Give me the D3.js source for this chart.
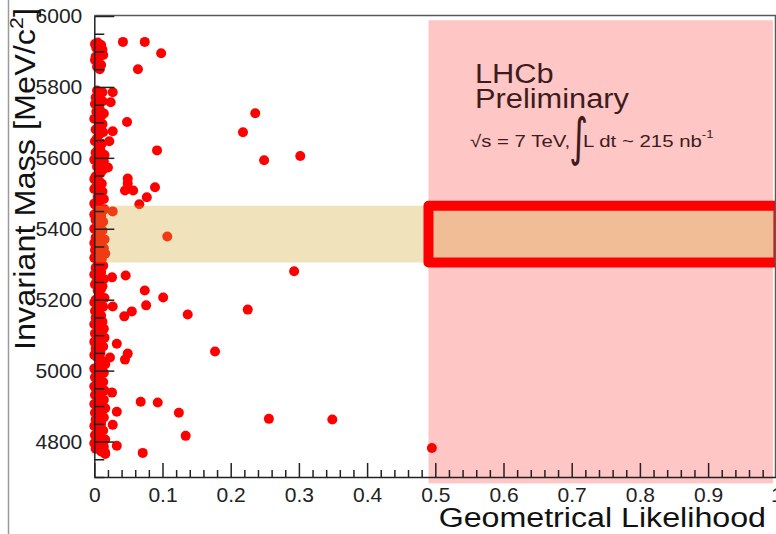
<!DOCTYPE html>
<html>
<head>
<meta charset="utf-8">
<script src="https://cdn.jsdelivr.net/npm/d3@7"></script>
<style>
  html, body { margin: 0; padding: 0; background: #fff; }
  svg text { font-family: "Liberation Sans", Arial, sans-serif; }
</style>
</head>
<body>
<div id="chart"></div>
<script>
// candidates close to zero likelihood: [likelihood, mass]
const nearZero = [
  [0.005, 5925], [0.010, 5918], [0.003, 5910], [0.012, 5905], [0.007, 5895], [0.002, 5885],
  [0.006, 5870], [0.010, 5862], [0.008, 5850], [0.004, 5790], [0.009, 5780], [0.002, 5770],
  [0.012, 5760], [0.006, 5745], [0.003, 5730], [0.010, 5718], [0.005, 5705], [0.012, 5695],
  [0.002, 5680], [0.008, 5668], [0.004, 5655], [0.011, 5640], [0.006, 5628], [0.002, 5615],
  [0.009, 5600], [0.014, 5590], [0.004, 5575], [0.010, 5560], [0.002, 5548], [0.007, 5535],
  [0.003, 5520], [0.012, 5505], [0.005, 5490], [0.008, 5478], [0.003, 5465], [0.015, 5455],
  [0.006, 5445], [0.010, 5435], [0.002, 5425], [0.008, 5415], [0.004, 5405], [0.012, 5395],
  [0.006, 5385], [0.002, 5375], [0.009, 5365], [0.004, 5355], [0.014, 5345], [0.007, 5335],
  [0.003, 5325], [0.011, 5315], [0.005, 5300], [0.002, 5290], [0.010, 5278], [0.006, 5265],
  [0.003, 5250], [0.012, 5238], [0.005, 5225], [0.008, 5212], [0.002, 5200], [0.010, 5188],
  [0.004, 5175], [0.007, 5162], [0.002, 5150], [0.012, 5138], [0.005, 5125], [0.009, 5112],
  [0.003, 5100], [0.011, 5088], [0.006, 5075], [0.002, 5062], [0.009, 5050], [0.004, 5038],
  [0.013, 5025], [0.006, 5012], [0.002, 5000], [0.010, 4988], [0.004, 4975], [0.008, 4962],
  [0.002, 4950], [0.011, 4938], [0.005, 4925], [0.009, 4912], [0.003, 4900], [0.012, 4888],
  [0.006, 4875], [0.002, 4862], [0.010, 4850], [0.004, 4838], [0.008, 4825], [0.003, 4812],
  [0.012, 4800], [0.006, 4790], [0.002, 4780], [0.010, 4772], [0.016, 4768]
];

// more of the dense column, between the ones above
const nearZeroFill = [
  [0.001, 5921], [0.008, 5913], [0.013, 5890], [0.001, 5876], [0.004, 5857], [0.012, 5785],
  [0.001, 5752], [0.008, 5737], [0.014, 5725], [0.000, 5710], [0.007, 5688], [0.013, 5672],
  [0.001, 5647], [0.009, 5621], [0.015, 5608], [0.000, 5595], [0.006, 5582], [0.013, 5567],
  [0.000, 5540], [0.011, 5527], [0.000, 5512], [0.009, 5497], [0.014, 5484], [0.000, 5471],
  [0.012, 5450], [0.000, 5440], [0.013, 5420], [0.000, 5400], [0.009, 5389], [0.015, 5370],
  [0.000, 5360], [0.010, 5350], [0.001, 5340], [0.016, 5330], [0.000, 5318], [0.013, 5296],
  [0.000, 5271], [0.014, 5258], [0.001, 5243], [0.010, 5230], [0.015, 5205], [0.000, 5192],
  [0.013, 5180], [0.001, 5168], [0.010, 5155], [0.000, 5131], [0.014, 5118], [0.001, 5105],
  [0.015, 5093], [0.000, 5081], [0.013, 5068], [0.000, 5044], [0.010, 5030], [0.016, 5018],
  [0.000, 5006], [0.014, 4994], [0.001, 4981], [0.013, 4968], [0.000, 4956], [0.015, 4944],
  [0.001, 4931], [0.014, 4918], [0.000, 4906], [0.016, 4894], [0.001, 4881], [0.014, 4868],
  [0.000, 4844], [0.013, 4831], [0.001, 4818], [0.016, 4806], [0.000, 4795], [0.014, 4785]
];

// the rest of the candidates: [likelihood, mass]
const spread = [
  [0.042, 5927], [0.074, 5927], [0.098, 5895], [0.064, 5850], [0.027, 5785], [0.024, 5757],
  [0.048, 5701], [0.027, 5675], [0.022, 5647], [0.092, 5621], [0.020, 5573], [0.049, 5542],
  [0.049, 5528], [0.045, 5508], [0.057, 5508], [0.089, 5517], [0.077, 5489], [0.066, 5469],
  [0.027, 5449], [0.236, 5726], [0.218, 5672], [0.249, 5593], [0.302, 5605], [0.107, 5378],
  [0.293, 5280], [0.026, 5263], [0.046, 5268], [0.074, 5226], [0.101, 5206], [0.225, 5172],
  [0.027, 5181], [0.076, 5184], [0.055, 5167], [0.044, 5153], [0.137, 5158], [0.177, 5054],
  [0.033, 5076], [0.049, 5048], [0.023, 5037], [0.045, 5031], [0.026, 4938], [0.068, 4912],
  [0.093, 4910], [0.124, 4881], [0.033, 4884], [0.027, 4847], [0.134, 4816], [0.256, 4864],
  [0.349, 4862], [0.033, 4788], [0.071, 4768], [0.495, 4782], [0.016, 4765]
];

const massWindow = [5305, 5465];
const signalRegion = { x0: 0.49, x1: 0.995, m0: 4682, m1: 5988 };
const xMajor = [0, 0.1, 0.2, 0.3, 0.4, 0.5, 0.6, 0.7, 0.8, 0.9, 1];
const yMajor = [4800, 5000, 5200, 5400, 5600, 5800, 6000];

const width = 776;
const height = 534;

const svg = d3.select("#chart")
  .append("svg")
  .attr("width", width)
  .attr("height", height)
  .attr("viewBox", `0 0 ${width} ${height}`);

const x = d3.scaleLinear().domain([0, 1]).range([94.3, 776.3]);
const y = d3.scaleLinear().domain([4700, 6000]).range([477, 16]);

// slide border on the left
svg.append("line")
  .attr("x1", 8.5).attr("x2", 8.5).attr("y1", 0).attr("y2", height)
  .attr("stroke", "#9a9a9a").attr("stroke-width", 1.5);

// signal region (pink)
svg.append("rect")
  .attr("x", x(signalRegion.x0))
  .attr("y", y(signalRegion.m1))
  .attr("width", x(signalRegion.x1) - x(signalRegion.x0))
  .attr("height", y(signalRegion.m0) - y(signalRegion.m1))
  .attr("fill", "#ffc6c6");

// points
const allPoints = nearZero.concat(nearZeroFill, spread);
svg.append("g")
  .selectAll("circle")
  .data(allPoints)
  .join("circle")
  .attr("cx", (d) => x(d[0]))
  .attr("cy", (d) => y(d[1]))
  .attr("r", 5)
  .attr("fill", "#ff0000");

// mass window band, translucent over the points
svg.append("rect")
  .attr("x", x(0))
  .attr("y", y(massWindow[1]))
  .attr("width", x(1) - x(0))
  .attr("height", y(massWindow[0]) - y(massWindow[1]))
  .attr("fill", "rgb(211,171,60)")
  .attr("fill-opacity", 0.35);

// box round signal window
svg.append("rect")
  .attr("x", x(signalRegion.x0))
  .attr("y", y(massWindow[1]))
  .attr("width", x(1.003) - x(signalRegion.x0))
  .attr("height", y(massWindow[0]) - y(massWindow[1]))
  .attr("fill", "none")
  .attr("stroke", "#ff0000")
  .attr("stroke-width", 10)
  .attr("stroke-linejoin", "round");

// frame top and right
svg.append("path")
  .attr("d", `M${x(0)},15.5H775.5V${y(4700)}`)
  .attr("fill", "none")
  .attr("stroke", "#5a5a5a")
  .attr("stroke-width", 1.5);

// axes
const xMinor = d3.range(0, 1.0001, 0.02).filter((v) => !xMajor.some((m) => Math.abs(m - v) < 1e-6));
const yMinor = d3.range(4700, 6001, 50).filter((v) => v % 200 !== 0);

const axisColor = "#222";

const xAxis = svg.append("g")
  .attr("transform", `translate(0,${y(4700)})`)
  .call(d3.axisBottom(x).tickValues(xMajor).tickSize(-14).tickSizeOuter(0).tickPadding(10)
    .tickFormat((d) => (d === 0 ? "0" : d === 1 ? "1" : d3.format(".1f")(d))));
xAxis.append("g")
  .call(d3.axisBottom(x).tickValues(xMinor).tickSize(-7).tickFormat(""))
  .call((g) => g.select(".domain").remove());

const yAxis = svg.append("g")
  .attr("transform", `translate(${x(0)},0)`)
  .call(d3.axisLeft(y).tickValues(yMajor).tickSize(-20).tickSizeOuter(0).tickPadding(12)
    .tickFormat(d3.format("d")));
yAxis.append("g")
  .call(d3.axisLeft(y).tickValues(yMinor).tickSize(-10).tickFormat(""))
  .call((g) => g.select(".domain").remove());

[xAxis, yAxis].forEach((g) => {
  g.selectAll(".domain, line").attr("stroke", axisColor).attr("stroke-width", 1.5);
  g.selectAll("text")
    .style("font-family", "'Liberation Sans', Arial, sans-serif")
    .style("font-size", "21px")
    .attr("fill", "#222");
});

// axis titles (the original font runs wider, so stretch horizontally)
svg.append("text")
  .attr("transform", "translate(766,527) scale(1.15,1)")
  .attr("text-anchor", "end")
  .style("font-size", "28px")
  .attr("fill", "#111")
  .text("Geometrical Likelihood");

const yTitle = svg.append("text")
  .attr("transform", "translate(35,350) rotate(-90) scale(1.12,1)")
  .style("font-size", "29px")
  .attr("fill", "#111");
yTitle.append("tspan").text("Invariant Mass [MeV/c");
yTitle.append("tspan").attr("dy", -12).style("font-size", "19px").text("2");
yTitle.append("tspan").attr("dy", 12).text("]");

// LHCb label
const labelColor = "#3c1c1c";
svg.append("text").attr("transform", "translate(475,83) scale(1.1,1)")
  .style("font-size", "28px").attr("fill", labelColor).text("LHCb");
svg.append("text").attr("transform", "translate(475,108) scale(1.1,1)")
  .style("font-size", "28px").attr("fill", labelColor).text("Preliminary");

svg.append("text").attr("transform", "translate(470,147) scale(1.2,1)")
  .style("font-size", "17px").attr("fill", labelColor).text("√s = 7 TeV,");
svg.append("text").attr("transform", "translate(569,155) scale(0.7,1)")
  .style("font-family", "'DejaVu Sans', sans-serif")
  .style("font-size", "52px").attr("fill", labelColor).text("∫");
const lumi = svg.append("text").attr("transform", "translate(583,147) scale(1.2,1)")
  .style("font-size", "17px").attr("fill", labelColor);
lumi.append("tspan").text("L dt ~ 215 nb");
lumi.append("tspan").attr("dy", -9).style("font-size", "11px").text("-1");
</script>
</body>
</html>
